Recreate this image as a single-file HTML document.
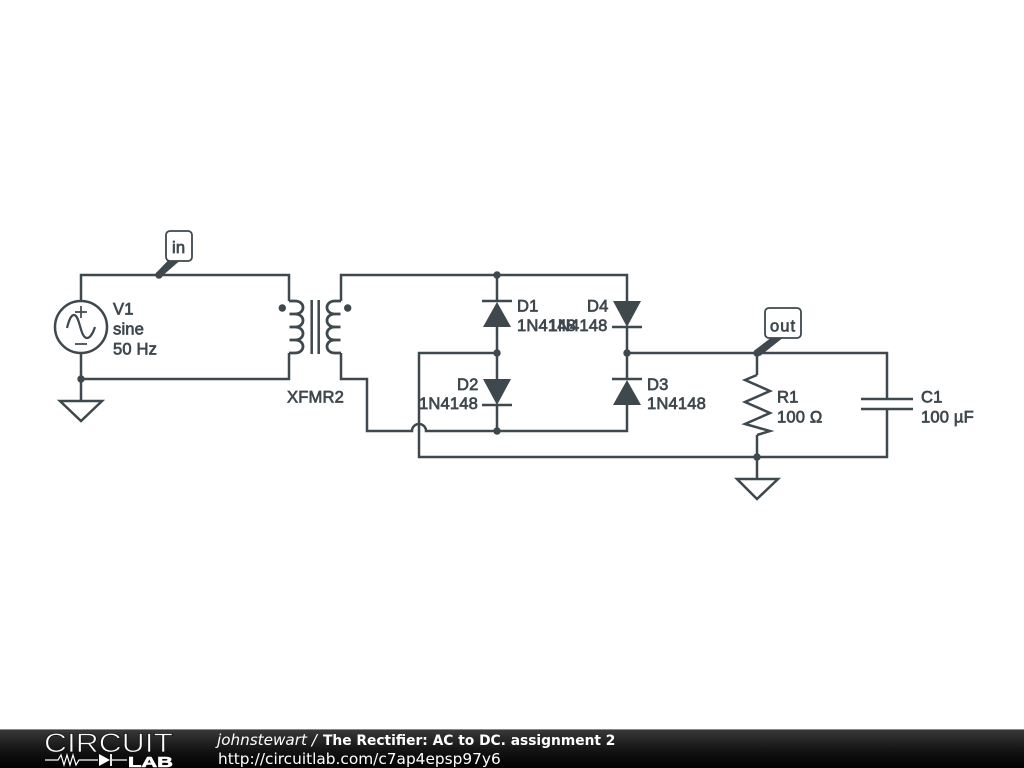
<!DOCTYPE html>
<html><head><meta charset="utf-8"><style>
html,body{margin:0;padding:0;background:#fff;width:1024px;height:768px;overflow:hidden}
svg{display:block}
.l{font-family:"Liberation Sans",sans-serif;font-size:16.6px;letter-spacing:.15px;fill:#3e484d;stroke:#3e484d;stroke-width:.7px}
.f{font-family:"DejaVu Sans",sans-serif;font-size:14px;fill:#fff}
</style></head><body>
<svg width="1024" height="768" viewBox="0 0 1024 768" xmlns="http://www.w3.org/2000/svg">
<defs><linearGradient id="g" x1="0" y1="0" x2="0" y2="1"><stop offset="0" stop-color="#3a3a3a"/><stop offset=".5" stop-color="#161616"/><stop offset="1" stop-color="#000"/></linearGradient></defs>
<rect width="1024" height="768" fill="#fff"/>
<g fill="none" stroke="#3e484d" stroke-width="2.5">
<path d="M81 301V275H289V301M81 353V400M81 379H289V353"/>
<path d="M341 301V275H627V301M497 275V301M497 327V379M497 405V431M627 327V379M627 405V431H426A7 7 0 0 0 412 431H367V379H341V353"/>
<path d="M497 353H419V457H887V409M627 353H887V399M757 353V375M757 435V478"/>
<circle cx="81" cy="327" r="26"/>
<path d="M67 328C69 320 71 315 74 315C80 315 80 338 87 338C90 338 93 333 95 327" stroke-width="2.2"/>
<path d="M81 306V318M75 312H87M75 344H87" stroke-width="1.7"/>
<path d="M60 401H102L81 421Z"/>
<path d="M737 479H778L757 499Z"/>
<path d="M289 301H295C300 301 303 304 303 307.500C303 311 300 314 295 314H289.500H295C300 314 303 317 303 320.500C303 324 300 327 295 327H289.500H295C300 327 303 330 303 333.500C303 337 300 340 295 340H289.500H295C300 340 303 343 303 346.500C303 350 300 353 295 353H289" stroke-width="2.800"/>
<path d="M341 301H335C330 301 327 304 327 307.500C327 311 330 314 335 314H340.500H335C330 314 327 317 327 320.500C327 324 330 327 335 327H340.500H335C330 327 327 330 327 333.500C327 337 330 340 335 340H340.500H335C330 340 327 343 327 346.500C327 350 330 353 335 353H341" stroke-width="2.800"/>
<path d="M311.700 300V354M318.700 300V354"/>
<path d="M482 301H512M482 405H512M612 327H642M612 379H642"/>
<path d="M757 375L745 380 770 391 745 402 770 413 745 424 770 431 757 435"/>
<path d="M861 399H913M861 409H913"/>
<rect x="166" y="231" width="26" height="30" rx="4" fill="#fff" stroke-width="1.8"/>
<rect x="765" y="308" width="36" height="30" rx="4" fill="#fff" stroke-width="1.8"/>
</g>
<g fill="#3e484d">
<path d="M483 327H511L497 302ZM483 379H511L497 405ZM613 301H641L627 327ZM613 405H641L627 380Z"/>
<path d="M156 273L168 260.500H180L161 277ZM755 350L770 338.500H782L760 356Z"/>
<circle cx="159" cy="275" r="3.700"/><circle cx="81" cy="379" r="3.700"/>
<circle cx="282.300" cy="308" r="3.700"/><circle cx="347.700" cy="308" r="3.700"/>
<circle cx="497" cy="275" r="3.700"/><circle cx="497" cy="353" r="3.700"/><circle cx="497" cy="431" r="3.700"/>
<circle cx="627" cy="353" r="3.700"/><circle cx="757" cy="353" r="3.700"/><circle cx="757" cy="457" r="3.700"/>
</g>
<g class="l">
<text x="172" y="253">in</text>
<text x="770" y="331.500" letter-spacing="1">out</text>
<text x="113" y="314.500">V1</text><text x="113" y="334.500">sine</text><text x="113" y="354.500">50 Hz</text>
<text x="287" y="402.500">XFMR2</text>
<text x="517" y="311.500">D1</text><text x="517" y="331">1N4148</text>
<text x="587" y="311.500">D4</text><text x="548.500" y="331">1N4148</text>
<text x="457" y="390">D2</text><text x="419" y="409">1N4148</text>
<text x="647" y="390">D3</text><text x="647" y="409">1N4148</text>
<text x="777" y="402.500">R1</text><text x="777" y="422.500">100 Ω</text>
<text x="921" y="402.500">C1</text><text x="921" y="422.500">100 µF</text>
</g>
<rect x="0" y="729" width="1024" height="39" fill="url(#g)"/>
<rect x="0" y="729" width="1024" height="1" fill="#8a8a8a"/>
<text x="44" y="752" font-family="'Liberation Sans',sans-serif" font-size="26.500" fill="#fff" stroke="#161616" stroke-width=".8" textLength="129" lengthAdjust="spacingAndGlyphs">CIRCUIT</text>
<g fill="none" stroke="#fff" stroke-width="1.2"><path d="M45 760H58L61 755 64 765 67 755 70 765 73 755 76 765 79 760H98M112 760H127"/><path d="M111 754V766" stroke-width="1.800"/></g>
<path d="M99 754V766L110 760Z" fill="#fff"/>
<text x="128" y="767" font-family="'Liberation Sans',sans-serif" font-size="15" font-weight="bold" fill="#fff" stroke="#fff" stroke-width=".6" textLength="45" lengthAdjust="spacingAndGlyphs">LAB</text>
<text class="f" x="217" y="745" font-style="italic" style="font-size:15.2px">johnstewart /</text>
<text class="f" x="323" y="745" font-weight="bold" style="font-size:13.8px">The Rectifier: AC to DC. assignment 2</text>
<text class="f" x="218" y="764" style="font-size:15.35px">http://circuitlab.com/c7ap4epsp97y6</text>
</svg>
</body></html>
